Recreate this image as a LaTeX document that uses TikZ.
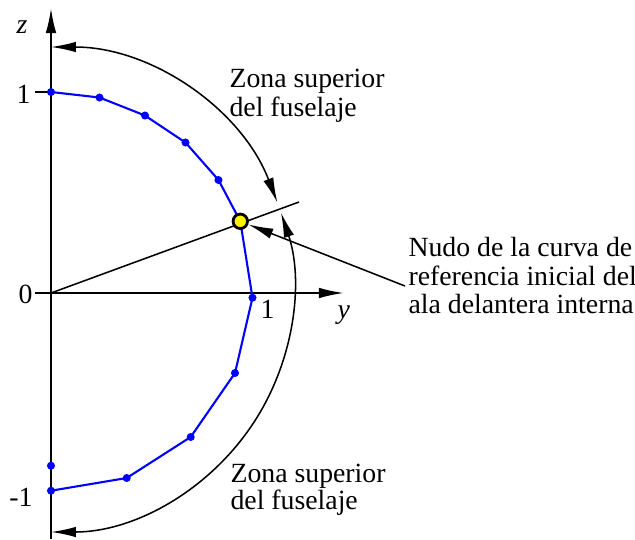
\documentclass[tikz,border=0pt]{standalone}
\usepackage{fontspec}
\setmainfont{LiberationSerif}[Extension=.ttf,UprightFont=*-Regular,ItalicFont=*-Italic,BoldFont=*-Bold,BoldItalicFont=*-BoldItalic]
\usetikzlibrary{arrows.meta}
\begin{document}
\begin{tikzpicture}[x=0.36pt,y=0.36pt,
  font=\fontsize{10}{10}\selectfont,
  axis/.style={line width=0.7pt,-{Latex[length=9pt,width=3.8pt]}},
  thin/.style={line width=0.55pt},
  dbl/.style={line width=0.55pt,{Latex[length=9pt,width=3.8pt]}-{Latex[length=9pt,width=3.8pt]}},
  callout/.style={line width=0.55pt,-{Latex[length=9pt,width=3.8pt]}},
  curve/.style={blue,line width=0.75pt},
  dot/.style={circle,fill=blue,inner sep=0pt,minimum size=2.9pt},
  knot/.style={circle,fill=yellow,draw=black,line width=1pt,inner sep=0pt,minimum size=5.2pt},
  lbl/.style={inner sep=0pt,anchor=base west},
  lble/.style={inner sep=0pt,anchor=base east}]
\useasboundingbox (-51,-246) rectangle (584,293);

% axes
\coordinate (O) at (0,0);
\coordinate (zb) at (0,-246);
\coordinate (zt) at (0,285);
\coordinate (ye) at (293,0);
\draw[axis] (zb) -- (zt);
\draw[axis] (O) -- (ye);
\coordinate (t1a) at (-16,201);
\coordinate (t1b) at (0,201);
\coordinate (t0a) at (-16,0);
\draw[line width=0.7pt] (t1a) -- (t1b);
\draw[line width=0.7pt] (t0a) -- (O);

% axis labels
\node[lbl] (zlab) at (-35,260) {\textit{z}};
\node[lbl] (ylab) at (286,-25) {\textit{y}};
\node[lble] (l1) at (-20,190) {1};
\node[lble] (l0) at (-18,-10) {0};
\node[lble] (lm1) at (-18,-213) {-1};
\node[lbl] (ly1) at (209,-25) {1};

% outer arcs (centre slightly above origin)
\coordinate (C) at (0,3.5);
\draw[dbl] (C) ++(21:242.5) arc[start angle=21,end angle=90,radius=87.3pt];
\draw[dbl] (C) ++(-90:242.5) arc[start angle=-90,end angle=18.5,radius=87.3pt];

% radial line through knot
\coordinate (rl) at (248,91);
\draw[thin] (O) -- (rl);

% blue reference curve
\node[dot] (p0) at (0,201) {};
\node[dot] (p1) at (48.5,195.5) {};
\node[dot] (p2) at (94,177.5) {};
\node[dot] (p3) at (134.5,150.5) {};
\node[dot] (p4) at (167.5,113) {};
\coordinate (p5) at (189.3,71.7);
\node[dot] (p6) at (201.5,-4.7) {};
\node[dot] (p7) at (184,-80) {};
\node[dot] (p8) at (139.7,-144) {};
\node[dot] (p9) at (75.7,-185) {};
\node[dot] (p10) at (0,-197.7) {};
\node[dot] (piso) at (0,-172.7) {};
\draw[curve] (p0.center) -- (p1.center) -- (p2.center) -- (p3.center) -- (p4.center) -- (p5)
  -- (p6.center) -- (p7.center) -- (p8.center) -- (p9.center) -- (p10.center);
\node[knot] (knot) at (p5) {};

% labels
\node[lbl] (za1) at (178,206) {Zona superior};
\node[lbl] (za2) at (178,177) {del fuselaje};
\node[lbl] (zb1) at (179,-189) {Zona superior};
\node[lbl] (zb2) at (179,-216) {del fuselaje};

\node[lbl] (c1) at (357,36.3) {Nudo de la curva de};
\node[lbl] (c2) at (357,8) {referencia inicial del};
\node[lbl] (c3) at (357,-20.3) {ala delantera interna};
\coordinate (cs) at (354,7);
\draw[callout] (cs) -- (knot);
\end{tikzpicture}
\end{document}
